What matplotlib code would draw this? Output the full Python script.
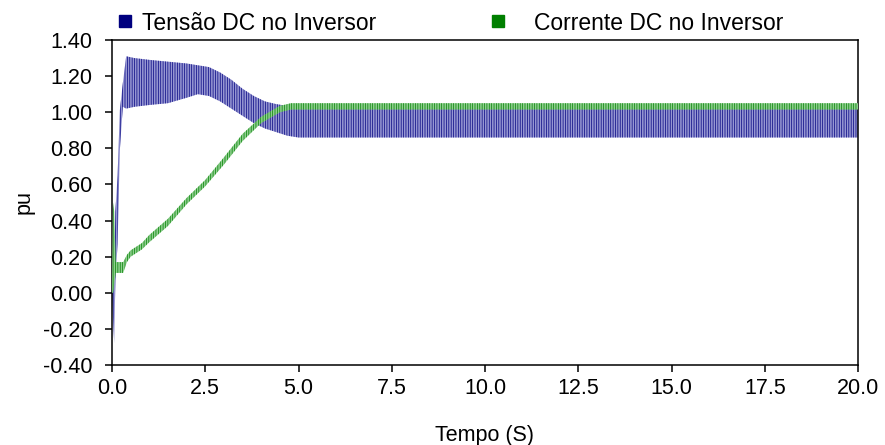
import numpy as np
import matplotlib
matplotlib.use("Agg")
import matplotlib.pyplot as plt
from matplotlib.lines import Line2D

plt.rcParams['font.family'] = ['Liberation Sans', 'DejaVu Sans']
plt.rcParams['hatch.linewidth'] = 0.5

# Tensao DC no inversor: envelope (min / max) of the ripple band
volt_t  = [0.0, 0.04, 0.06, 0.09, 0.15, 0.21, 0.29, 0.38, 0.6, 1.0, 1.5, 2.0, 2.3,
           2.6, 2.9, 3.2, 3.5, 3.8, 4.1, 4.4, 4.7, 5.0, 5.3, 20.0]
volt_hi = [0.00, 0.10, 0.13, 0.45, 0.65, 1.01, 1.16, 1.31, 1.30, 1.29, 1.28, 1.27, 1.26,
           1.25, 1.22, 1.18, 1.13, 1.09, 1.06, 1.045, 1.035, 1.03, 1.03, 1.03]
volt_lo = [0.00, -0.20, -0.28, 0.07, 0.27, 0.79, 1.03, 1.02, 1.03, 1.04, 1.05, 1.08, 1.10,
           1.09, 1.06, 1.02, 0.98, 0.94, 0.91, 0.89, 0.87, 0.86, 0.86, 0.86]

# Corrente DC no inversor
cur_t  = [0.0, 0.03, 0.06, 0.1, 0.3, 0.4, 0.5, 0.8, 1.0, 1.5, 2.0, 2.5, 3.0, 3.5,
          4.0, 4.5, 4.8, 5.1, 20.0]
cur_lo = [0.00, 0.00, 0.05, 0.11, 0.11, 0.17, 0.20, 0.24, 0.28, 0.37, 0.49, 0.59, 0.71, 0.84,
          0.94, 1.00, 1.015, 1.015, 1.015]
cur_hi = [0.05, 0.50, 0.45, 0.17, 0.17, 0.21, 0.235, 0.275, 0.32, 0.41, 0.525, 0.625, 0.75, 0.88,
          0.975, 1.035, 1.05, 1.05, 1.05]

labels = ['Tensão DC no Inversor', 'Corrente DC no Inversor']
navy = '#00007f'
green = '#007f00'

fig = plt.figure(figsize=(8.85, 4.45), dpi=100)
ax = fig.add_axes([112/885, 1-365/445, (858-112)/885, (365-40)/445])

ax.fill_between(volt_t, volt_lo, volt_hi, facecolor='#9696d2', edgecolor=navy,
                hatch='|||||||', linewidth=0, zorder=2)
ax.fill_between(cur_t, cur_lo, cur_hi, facecolor='#8fcf8f', edgecolor=green,
                hatch='|||||||', linewidth=0, zorder=3)

ax.set_xlim(0, 20)
ax.set_ylim(-0.4, 1.4)
ax.set_xticks(np.arange(0, 20.1, 2.5))
ax.set_yticks(np.arange(-0.4, 1.41, 0.2))
ax.xaxis.set_major_formatter(matplotlib.ticker.FormatStrFormatter('%.1f'))
ax.yaxis.set_major_formatter(matplotlib.ticker.FormatStrFormatter('%.2f'))
ax.tick_params(direction='out', length=5, width=1.1, labelsize=15.5, pad=4,
               top=False, right=False)
ax.tick_params(axis='y', pad=9)
for s in ax.spines.values():
    s.set_linewidth(1.1)

ax.set_xlabel('Tempo (S)', fontsize=15.5, labelpad=19)
ax.set_ylabel('pu', fontsize=15.5, labelpad=6)

# two legend entries placed separately (the gaps differ in the original)
h1 = Line2D([], [], ls='none', marker='s', ms=8, color=navy)
h2 = Line2D([], [], ls='none', marker='s', ms=8, color=green)
fig.legend([h1], labels[:1], loc='center left', bbox_to_anchor=(116/885, 1-23/445),
           frameon=False, fontsize=16.5, handlelength=0.75, handletextpad=0.4,
           borderpad=0, borderaxespad=0)
fig.legend([h2], labels[1:], loc='center left', bbox_to_anchor=(489/885, 1-23/445),
           frameon=False, fontsize=16.5, handlelength=0.75, handletextpad=1.2,
           borderpad=0, borderaxespad=0)

fig.savefig('out.png', dpi=100)
